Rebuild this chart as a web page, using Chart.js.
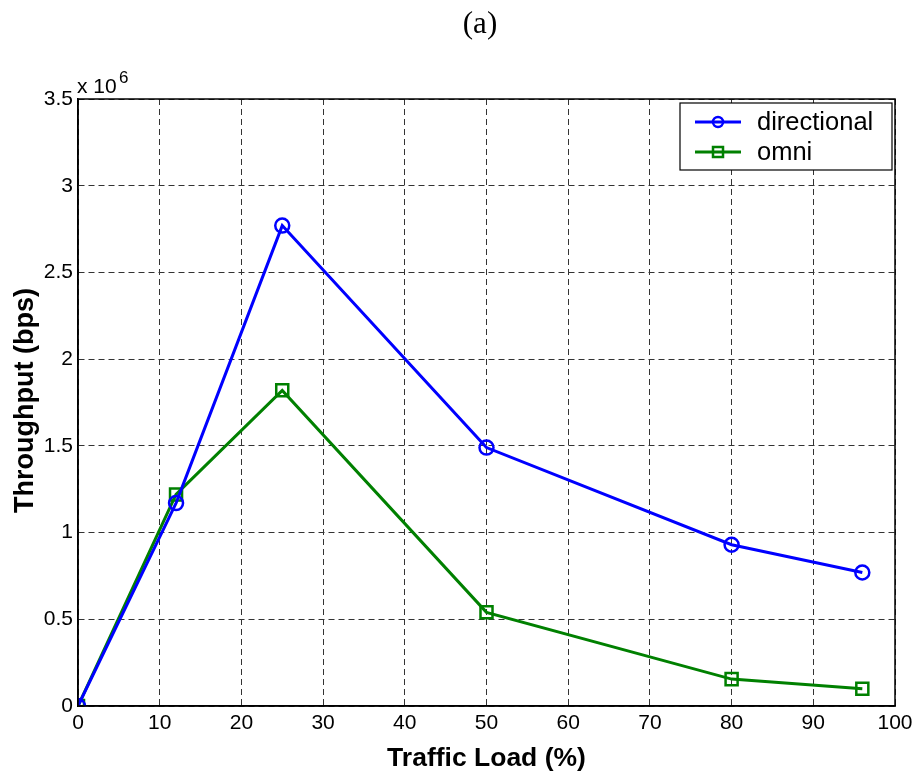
<!DOCTYPE html>
<html>
<head>
<meta charset="utf-8">
<script src="https://cdn.jsdelivr.net/npm/chart.js@4/dist/chart.umd.min.js"></script>
<style>
html,body{margin:0;padding:0;background:#fff;}
#wrap{width:921px;height:778px;position:relative;}
</style>
</head>
<body>
<div id="wrap"><canvas id="c" width="921" height="778"></canvas></div>
<script>
const trafficLoad = [0, 12, 25, 50, 80, 96];
const directional = [0, 1.17e6, 2.77e6, 1.49e6, 0.93e6, 0.77e6];
const omni = [0, 1.22e6, 1.82e6, 0.54e6, 0.155e6, 0.1e6];
const seriesNames = ['directional', 'omni'];
const titleText = '(a)';
const xTitle = 'Traffic Load (%)';
const yTitle = 'Throughput (bps)';

const BLUE = '#0000ff', GREEN = '#008000';
const SANS = '"Liberation Sans", Arial, sans-serif';

const pts = (xs, ys) => xs.map((x, i) => ({x, y: ys[i]}));

const decor = {
  id: 'decor',
  afterDraw(chart) {
    const ctx = chart.ctx;
    const a = chart.chartArea;
    ctx.save();
    // box
    ctx.strokeStyle = '#000';
    ctx.lineWidth = 1.5;
    ctx.setLineDash([]);
    ctx.strokeRect(a.left, a.top, a.right - a.left, a.bottom - a.top);
    // title
    ctx.fillStyle = '#000';
    ctx.font = '31px "Liberation Serif", "Times New Roman", serif';
    ctx.textAlign = 'center';
    ctx.textBaseline = 'middle';
    ctx.fillText(titleText, 480, 25);
    // exponent
    ctx.font = '21px ' + SANS;
    ctx.textAlign = 'left';
    ctx.textBaseline = 'alphabetic';
    ctx.fillText('x 10', 77, 93);
    ctx.font = '17px ' + SANS;
    ctx.fillText('6', 119, 83);
    // axis titles
    ctx.font = 'bold 26.5px ' + SANS;
    ctx.textAlign = 'center';
    ctx.textBaseline = 'alphabetic';
    ctx.fillText(xTitle, (a.left + a.right) / 2, 766);
    ctx.save();
    ctx.translate(33, (a.top + a.bottom) / 2 - 2);
    ctx.rotate(-Math.PI / 2);
    ctx.font = 'bold 27px ' + SANS;
    ctx.fillText(yTitle, 0, 0);
    ctx.restore();
    // legend
    const lx = 680, ly = 103, lw = 212, lh = 67;
    ctx.fillStyle = '#fff';
    ctx.fillRect(lx, ly, lw, lh);
    ctx.strokeStyle = '#000';
    ctx.lineWidth = 1.2;
    ctx.strokeRect(lx, ly, lw, lh);
    const ds = chart.data.datasets;
    ds.forEach((d, i) => {
      const y = ly + 19 + i * 30;
      ctx.strokeStyle = d.borderColor;
      ctx.lineWidth = 3;
      ctx.beginPath();
      ctx.moveTo(lx + 15, y);
      ctx.lineTo(lx + 61, y);
      ctx.stroke();
      ctx.lineWidth = 2.5;
      if (d.pointStyle === 'circle') {
        ctx.beginPath();
        ctx.arc(lx + 38, y, 5, 0, Math.PI * 2);
        ctx.stroke();
      } else {
        ctx.strokeRect(lx + 33, y - 5, 10, 10);
      }
      ctx.fillStyle = '#000';
      ctx.font = '25.5px ' + SANS;
      ctx.textAlign = 'left';
      ctx.textBaseline = 'middle';
      ctx.fillText(d.label, lx + 77, y + 1);
    });
    ctx.restore();
  }
};

new Chart(document.getElementById('c'), {
  type: 'line',
  data: {
    datasets: [
      {label: seriesNames[0], data: pts(trafficLoad, directional), borderColor: BLUE, backgroundColor: 'rgba(0,0,0,0)',
       borderWidth: 3, pointStyle: 'circle', pointRadius: 7, pointBorderWidth: 2.5, pointBorderColor: BLUE,
       pointBackgroundColor: 'rgba(0,0,0,0)', tension: 0},
      {label: seriesNames[1], data: pts(trafficLoad, omni), borderColor: GREEN, backgroundColor: 'rgba(0,0,0,0)',
       borderWidth: 3, pointStyle: 'rect', pointRadius: 8.5, pointBorderWidth: 2.5, pointBorderColor: GREEN,
       pointBackgroundColor: 'rgba(0,0,0,0)', tension: 0}
    ]
  },
  options: {
    responsive: false,
    animation: false,
    layout: {padding: {top: 99, right: 26, left: 0, bottom: 0}},
    plugins: {legend: {display: false}, tooltip: {enabled: false}},
    scales: {
      x: {
        type: 'linear', min: 0, max: 100,
        ticks: {stepSize: 10, color: '#000', font: {family: SANS, size: 21}, padding: 5, maxRotation: 0},
        grid: {color: '#333', lineWidth: 1, drawTicks: false},
        border: {display: true, color: '#000', width: 1.5, dash: [6, 4]},
        afterFit(s) { s.height = 72; }
      },
      y: {
        type: 'linear', min: 0, max: 3.5e6,
        ticks: {stepSize: 0.5e6, color: '#000', font: {family: SANS, size: 21}, padding: 5,
          callback: v => String(Math.round(v / 1e5) / 10)},
        grid: {color: '#333', lineWidth: 1, drawTicks: false},
        border: {display: true, color: '#000', width: 1.5, dash: [6, 4]},
        afterFit(s) { s.width = 78; }
      }
    }
  },
  plugins: [decor]
});
</script>
</body>
</html>
